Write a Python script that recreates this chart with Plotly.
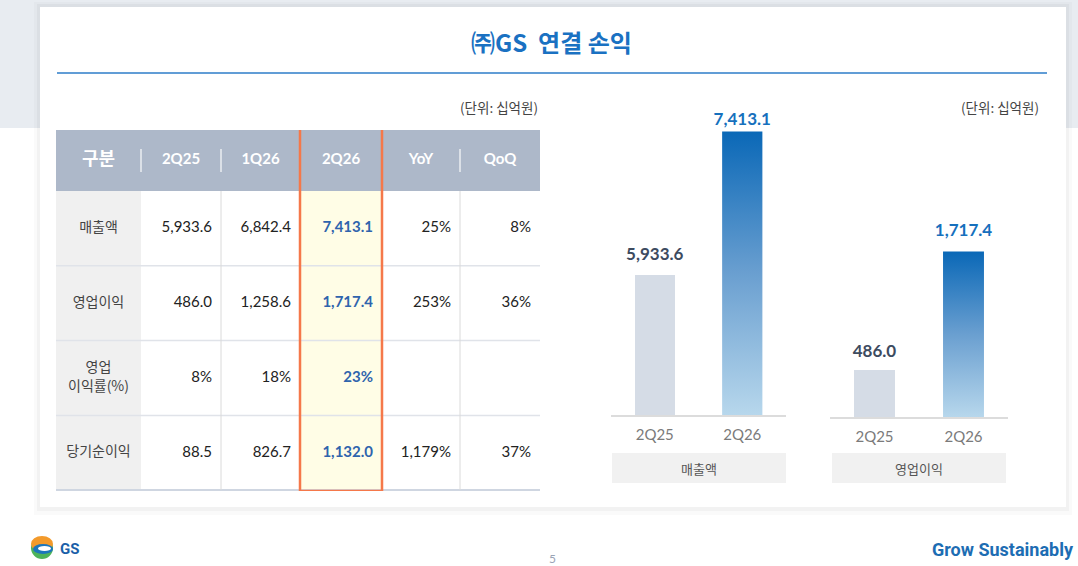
import plotly.graph_objects as go

W, H = 1078, 566

# table data (단위: 십억원)
row_labels = ['매출액', '영업이익', '영업<br>이익률(%)', '당기순이익']
col_labels = ['구분', '2Q25', '1Q26', '2Q26', 'YoY', 'QoQ']
q2_25 = [5933.6, 486.0, 8, 88.5]
q1_26 = [6842.4, 1258.6, 18, 826.7]
q2_26 = [7413.1, 1717.4, 23, 1132.0]
yoy = [25, 253, None, 1179]
qoq = [8, 36, None, 37]

# bar chart data
bar_quarters = ['2Q25', '2Q26']
sales = [5933.6, 7413.1]
op_profit = [486.0, 1717.4]
chart_names = ['매출액', '영업이익']

KR = "'Noto Sans CJK KR', 'Noto Sans', sans-serif"
NUM = "Lato, 'Noto Sans CJK KR', sans-serif"
BLUE = '#1a71c2'


def px(x):
    return x / W


def py(y):
    return 1 - y / H


def fmt_val(v, i):
    if v is None:
        return ''
    if i == 2:
        return f'{v:.0f}%'
    return f'{v:,.1f}'


def fmt_pct(v):
    return '' if v is None else f'{v:,.0f}%'


fig = go.Figure()

# ---------- table (x3/y3 in table-local pixels) ----------
edges = [0, 85, 165, 244, 326, 404, 484]
head_h = 61
row_h = 74.8
row_y = [head_h + row_h * (i + 0.5) for i in range(len(row_labels))]

fig.add_trace(go.Scatter(
    x=[(edges[j] + edges[j + 1]) / 2 for j in range(len(col_labels))],
    y=[head_h / 2] * len(col_labels),
    text=['<b>%s</b>' % c for c in col_labels],
    mode='text', textposition='middle center',
    textfont=dict(family=NUM, size=[18, 15, 15, 15, 15, 15], color='white'),
    xaxis='x3', yaxis='y3', hoverinfo='skip', cliponaxis=False
))
fig.add_trace(go.Scatter(
    x=[edges[1] / 2] * len(row_labels), y=row_y, text=row_labels,
    mode='text', textposition='middle center',
    textfont=dict(family=KR, size=14, color='#444444'),
    xaxis='x3', yaxis='y3', hoverinfo='skip', cliponaxis=False
))
columns = [
    [fmt_val(v, i) for i, v in enumerate(q2_25)],
    [fmt_val(v, i) for i, v in enumerate(q1_26)],
    ['<b>%s</b>' % fmt_val(v, i) for i, v in enumerate(q2_26)],
    [fmt_pct(v) for v in yoy],
    [fmt_pct(v) for v in qoq],
]
for j, col in enumerate(columns):
    fig.add_trace(go.Scatter(
        x=[edges[j + 2] - 9] * len(col), y=row_y, text=col,
        mode='text', textposition='middle left',
        textfont=dict(family=NUM, size=15,
                      color='#2f64ad' if j == 2 else '#222222'),
        xaxis='x3', yaxis='y3', hoverinfo='skip', cliponaxis=False
    ))

tb = dict(xref='x3', yref='y3')
shapes = []
shapes.append(dict(type='rect', x0=0, x1=484, y0=0, y1=head_h,
                   fillcolor='#adb8c9', line_width=0, layer='below', **tb))
shapes.append(dict(type='rect', x0=0, x1=edges[1], y0=head_h, y1=360,
                   fillcolor='#f0f0f0', line_width=0, layer='below', **tb))
shapes.append(dict(type='rect', x0=edges[3], x1=edges[4], y0=head_h, y1=360,
                   fillcolor='#fffde6', line_width=0, layer='below', **tb))
for i in range(1, 4):
    yy = head_h + row_h * i
    shapes.append(dict(type='line', x0=0, x1=484, y0=yy, y1=yy,
                       line=dict(color='#e0e3e9', width=1.5), layer='below', **tb))
shapes.append(dict(type='line', x0=0, x1=484, y0=360, y1=360,
                   line=dict(color='#cfd6e1', width=2), layer='below', **tb))
for xx in [edges[2], edges[3], edges[4], edges[5]]:
    shapes.append(dict(type='line', x0=xx, x1=xx, y0=head_h, y1=360,
                       line=dict(color='#dadada', width=1), layer='below', **tb))
for xx in [edges[1], edges[2], edges[5]]:
    shapes.append(dict(type='line', x0=xx, x1=xx, y0=19, y1=42,
                       line=dict(color='rgba(255,255,255,0.75)', width=1.5), **tb))
shapes.append(dict(type='rect', x0=edges[3], x1=edges[4], y0=-2, y1=361,
                   line=dict(color='#f5784a', width=2.5), **tb))

# ---------- bar charts ----------
bw = 0.46
charts = [
    (sales, 'x', 'y', 4500, [16, 2]),
    (op_profit, 'x2', 'y2', 0, [12, 16]),
]
for vals, xa, ya, base, gap in charts:
    fig.add_trace(go.Bar(
        x=[0], y=[vals[0]], width=bw, marker=dict(color='#d5dce6', line_width=0),
        xaxis=xa, yaxis=ya, hoverinfo='skip'
    ))
    fig.add_trace(go.Scatter(
        x=[1 - bw / 2, 1 - bw / 2, 1 + bw / 2, 1 + bw / 2, 1 - bw / 2],
        y=[base, vals[1], vals[1], base, base],
        fill='toself', mode='lines', line=dict(width=0),
        fillgradient=dict(type='vertical', start=base, stop=vals[1],
                          colorscale=[[0, '#b7d7ec'], [0.5, '#6a9fd0'], [1, '#0a68b7']]),
        xaxis=xa, yaxis=ya, hoverinfo='skip'
    ))
    fig.add_trace(go.Scatter(
        x=[0, 1], y=vals, text=['<b>%s</b>' % f'{v:,.1f}' for v in vals],
        mode='markers+text', textposition='top center',
        marker=dict(size=gap, opacity=0),
        textfont=dict(family=NUM, size=17, color=['#3d4b5f', '#1670bd']),
        xaxis=xa, yaxis=ya, hoverinfo='skip', cliponaxis=False
    ))

bar_x = dict(range=[-0.5, 1.5], tickvals=[0, 1], ticktext=bar_quarters,
             showgrid=False, zeroline=False, showline=True, linecolor='#dcdcdc',
             linewidth=2, ticks='', ticklabelstandoff=5,
             tickfont=dict(family=NUM, size=15, color='#7b7b7b'), fixedrange=True)
hidden = dict(visible=False, fixedrange=True)

# chart captions
for (x0, x1), name in zip([(612, 786), (832, 1006)], chart_names):
    shapes.append(dict(type='rect', xref='paper', yref='paper', x0=px(x0), x1=px(x1),
                       y0=py(483), y1=py(453), fillcolor='#f1f1f1', line_width=0))

# ---------- page / card ----------
bg = [
    dict(type='rect', x0=0, x1=1, y0=py(128), y1=1, fillcolor='#e8ecf1'),
    dict(type='rect', x0=px(34), x1=px(1072), y0=py(515), y1=py(2), fillcolor='rgba(0,0,0,0.02)'),
    dict(type='rect', x0=px(37), x1=px(1069), y0=py(511), y1=py(4), fillcolor='rgba(0,0,0,0.03)'),
    dict(type='rect', x0=px(40), x1=px(1066), y0=py(507), y1=py(7), fillcolor='white'),
]
for s in bg:
    s.update(xref='paper', yref='paper', line_width=0, layer='below')
shapes = bg + shapes
shapes.append(dict(type='line', xref='paper', yref='paper', x0=px(57), x1=px(1047),
                   y0=py(73), y1=py(73), line=dict(color='#2d7dc8', width=1.5)))
# logo
logo = [
    ((31, 537), (53, 559), '#4db35a'),
    ((31, 536), (53, 552), '#f39a2b'),
    ((33, 544), (53, 554), '#1c76bc'),
    ((38, 546), (51, 551), 'white'),
]
for (a, b), (c, d), col in logo:
    shapes.append(dict(type='circle', xref='paper', yref='paper', x0=px(a), x1=px(c),
                       y0=py(d), y1=py(b), fillcolor=col, line_width=0))

ann = [
    dict(x=px(551), y=py(42), text='<b>㈜GS  연결 손익</b>',
         font=dict(family=KR, size=24, color=BLUE)),
    dict(x=px(540), y=py(107), text='(단위: 십억원)', xanchor='right',
         font=dict(family=KR, size=13.5, color='#444')),
    dict(x=px(1041), y=py(107), text='(단위: 십억원)', xanchor='right',
         font=dict(family=KR, size=13.5, color='#444')),
    dict(x=px(699), y=py(468), text=chart_names[0],
         font=dict(family=KR, size=13, color='#555')),
    dict(x=px(919), y=py(468), text=chart_names[1],
         font=dict(family=KR, size=13, color='#555')),
    dict(x=px(58), y=py(549), text='<b>GS</b>', xanchor='left',
         font=dict(family='Roboto', size=15, color='#1a5fa8')),
    dict(x=px(552), y=py(558), text='5',
         font=dict(family=NUM, size=12, color='#9aa4b5')),
    dict(x=px(1076), y=py(549), text='<b>Grow Sustainably</b>', xanchor='right',
         font=dict(family='Roboto', size=18, color='#1d6db3')),
]
for a in ann:
    a.setdefault('xanchor', 'center')
    a.update(xref='paper', yref='paper', showarrow=False, yanchor='middle')

fig.update_layout(
    width=W, height=H, autosize=False,
    margin=dict(l=0, r=0, t=0, b=0),
    paper_bgcolor='white', plot_bgcolor='rgba(0,0,0,0)',
    showlegend=False, bargap=0,
    xaxis=dict(domain=[px(611), px(786)], anchor='y', **bar_x),
    yaxis=dict(domain=[py(415), py(100)], range=[4500, 7737], anchor='x', **hidden),
    xaxis2=dict(domain=[px(830), px(1008)], anchor='y2', **bar_x),
    yaxis2=dict(domain=[py(417), py(100)], range=[0, 3292], anchor='x2', **hidden),
    xaxis3=dict(domain=[px(56), px(540)], range=[0, 484], anchor='y3', **hidden),
    yaxis3=dict(domain=[py(491), py(130)], range=[361, 0], anchor='x3', **hidden),
    shapes=shapes,
    annotations=ann,
)

fig.write_html("out.html", config=dict(displayModeBar=False),
               post_script=["document.body.style.margin='0';document.body.style.overflow='hidden';"])
